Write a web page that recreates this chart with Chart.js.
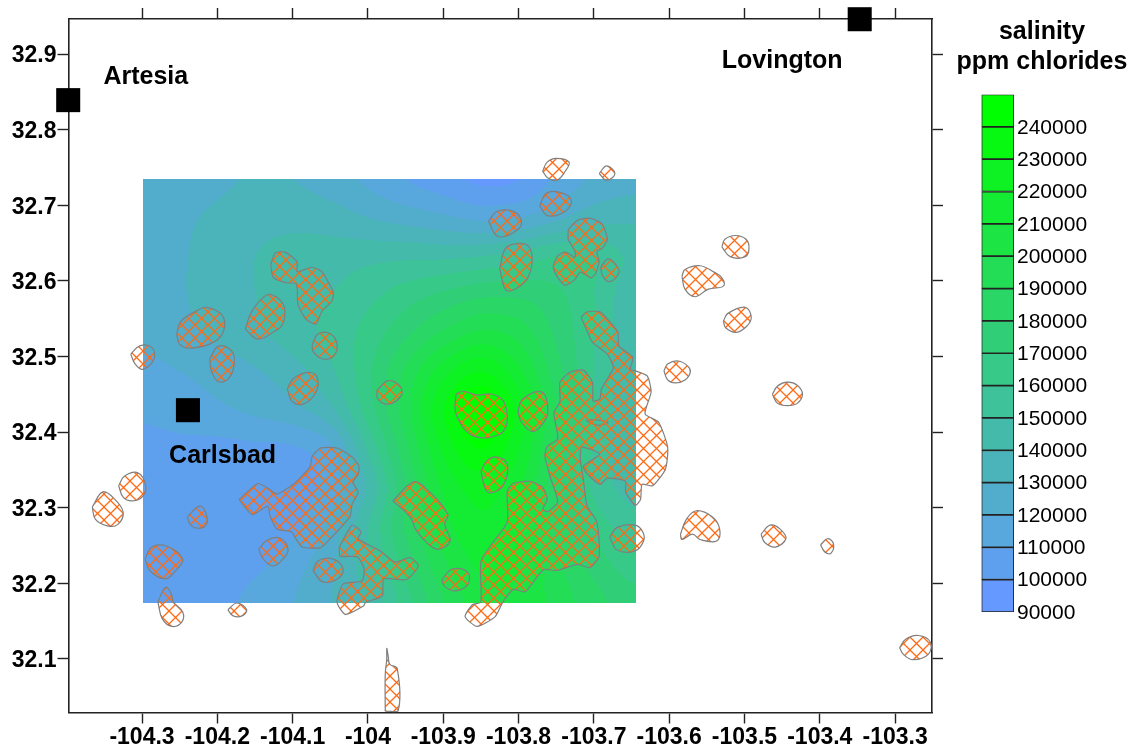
<!DOCTYPE html>
<html>
<head>
<meta charset="utf-8">
<title>Salinity map</title>
<script src="https://cdn.jsdelivr.net/npm/chart.js@4"></script>
<style>
    body { margin: 0; background: #fff; }
    #mapChart { position: absolute; left: 0; top: 0; }
    #scaleChart { position: absolute; left: 953px; top: 0; }
</style>
</head>
<body>
<canvas id="mapChart" width="1131" height="746"></canvas>
<canvas id="scaleChart" width="178" height="746"></canvas>
<script>
// Towns
const townNames = ["Artesia", "Lovington", "Carlsbad"];
const townLons = [-104.398, -103.347, -104.239];
const townLats = [32.839, 32.946, 32.429];
const townLabelLons = [-104.295, -103.450, -104.193];
const townLabelLats = [32.869, 32.890, 32.368];

// Salinity, thousands of ppm, north row first
const fieldLons = [-104.30, -104.25, -104.20, -104.15, -104.10, -104.05, -104.00, -103.95, -103.90, -103.85, -103.80, -103.75, -103.70, -103.65];
const fieldLats = [32.735, 32.684, 32.633, 32.582, 32.531, 32.480, 32.429, 32.378, 32.327, 32.276, 32.225, 32.175];
const fieldValues = [
    [123, 124, 128, 131, 130, 125, 118, 110, 104, 98, 100, 112, 122, 126],
    [124, 128, 132, 136, 137, 135, 130, 126, 122, 118, 120, 128, 136, 138],
    [125, 129, 134, 140, 144, 145, 147, 148, 148, 150, 154, 160, 158, 148],
    [125, 129, 135, 140, 146, 150, 157, 165, 172, 178, 178, 172, 160, 143],
    [122, 127, 132, 138, 145, 153, 164, 178, 192, 202, 196, 178, 160, 142],
    [117, 120, 124, 129, 136, 148, 168, 192, 216, 230, 212, 184, 160, 142],
    [112, 115, 118, 122, 127, 138, 165, 196, 230, 252, 226, 190, 160, 142],
    [106, 107, 107, 108, 109, 118, 152, 188, 222, 240, 220, 186, 158, 142],
    [103, 103, 104, 105, 106, 115, 142, 180, 212, 224, 212, 182, 158, 146],
    [103, 103, 104, 105, 108, 124, 150, 182, 206, 218, 210, 186, 166, 155],
    [103, 103, 104, 108, 116, 128, 148, 174, 198, 212, 210, 192, 176, 165],
    [103, 104, 106, 114, 120, 130, 142, 166, 190, 206, 208, 196, 184, 174]
];

// Contour levels of the colour scale
const levels = [90000, 100000, 110000, 120000, 130000, 140000, 150000, 160000, 170000, 180000, 190000, 200000, 210000, 220000, 230000, 240000, 250000];

// Hatched areas as lon, lat pairs
const hatchedAreas = [
    [-103.768,32.745, -103.762,32.757, -103.750,32.762, -103.733,32.757, -103.738,32.745, -103.749,32.733, -103.761,32.736],
    [-103.693,32.742, -103.683,32.752, -103.672,32.742, -103.683,32.733],
    [-103.772,32.699, -103.763,32.716, -103.745,32.717, -103.730,32.707, -103.738,32.692, -103.761,32.686],
    [-103.840,32.679, -103.828,32.692, -103.805,32.691, -103.796,32.676, -103.808,32.663, -103.828,32.659],
    [-103.825,32.616, -103.818,32.642, -103.805,32.649, -103.787,32.646, -103.782,32.626, -103.789,32.602, -103.805,32.589, -103.817,32.588],
    [-103.734,32.668, -103.722,32.680, -103.705,32.683, -103.689,32.675, -103.682,32.655, -103.689,32.643, -103.696,32.639, -103.693,32.625, -103.698,32.609, -103.704,32.604, -103.718,32.612, -103.725,32.602, -103.738,32.594, -103.749,32.606, -103.754,32.619, -103.748,32.633, -103.738,32.638, -103.725,32.631, -103.725,32.639, -103.734,32.655],
    [-103.691,32.618, -103.681,32.629, -103.669,32.619, -103.667,32.610, -103.679,32.599, -103.688,32.606],
    [-103.583,32.606, -103.579,32.615, -103.559,32.620, -103.541,32.612, -103.530,32.604, -103.528,32.593, -103.548,32.589, -103.566,32.579, -103.579,32.589],
    [-103.530,32.645, -103.526,32.655, -103.512,32.660, -103.498,32.655, -103.494,32.643, -103.499,32.632, -103.519,32.632],
    [-103.528,32.547, -103.522,32.557, -103.499,32.565, -103.491,32.552, -103.497,32.540, -103.511,32.532, -103.525,32.538],
    [-103.607,32.481, -103.602,32.490, -103.588,32.494, -103.575,32.487, -103.572,32.479, -103.579,32.469, -103.592,32.465, -103.602,32.469],
    [-103.463,32.450, -103.456,32.461, -103.443,32.466, -103.430,32.462, -103.423,32.450, -103.430,32.438, -103.443,32.435, -103.456,32.438],
    [-103.717,32.552, -103.709,32.559, -103.692,32.559, -103.678,32.545, -103.668,32.532, -103.667,32.514, -103.649,32.500, -103.649,32.493, -103.652,32.483, -103.645,32.481, -103.629,32.474, -103.624,32.453, -103.632,32.424, -103.614,32.413, -103.602,32.380, -103.605,32.351, -103.622,32.329, -103.636,32.331, -103.638,32.311, -103.645,32.303, -103.658,32.321, -103.658,32.335, -103.682,32.339, -103.692,32.331, -103.709,32.345, -103.714,32.355, -103.692,32.371, -103.716,32.380, -103.718,32.364, -103.714,32.338, -103.709,32.302, -103.696,32.281, -103.693,32.236, -103.705,32.221, -103.722,32.225, -103.749,32.217, -103.767,32.218, -103.791,32.189, -103.807,32.192, -103.821,32.175, -103.831,32.156, -103.855,32.143, -103.871,32.156, -103.861,32.172, -103.850,32.175, -103.850,32.229, -103.834,32.254, -103.815,32.281, -103.815,32.322, -103.807,32.332, -103.785,32.335, -103.768,32.327, -103.762,32.311, -103.768,32.298, -103.761,32.295, -103.748,32.308, -103.758,32.341, -103.765,32.368, -103.762,32.381, -103.748,32.391, -103.753,32.426, -103.745,32.440, -103.745,32.466, -103.732,32.479, -103.714,32.482, -103.702,32.466, -103.701,32.441, -103.692,32.444, -103.690,32.457, -103.678,32.477, -103.674,32.486, -103.682,32.503, -103.702,32.519, -103.710,32.536],
    [-103.679,32.261, -103.669,32.274, -103.645,32.277, -103.635,32.268, -103.634,32.256, -103.645,32.243, -103.669,32.244],
    [-103.883,32.450, -103.874,32.454, -103.855,32.449, -103.834,32.450, -103.818,32.437, -103.818,32.404, -103.838,32.393, -103.860,32.395, -103.874,32.407, -103.884,32.428],
    [-103.801,32.428, -103.794,32.444, -103.769,32.453, -103.761,32.428, -103.768,32.411, -103.782,32.401, -103.796,32.413],
    [-103.850,32.348, -103.842,32.362, -103.829,32.367, -103.815,32.358, -103.818,32.334, -103.829,32.322, -103.842,32.322],
    [-103.988,32.455, -103.973,32.468, -103.957,32.460, -103.956,32.448, -103.973,32.437, -103.987,32.444],
    [-103.967,32.309, -103.940,32.334, -103.927,32.329, -103.894,32.292, -103.898,32.278, -103.891,32.256, -103.907,32.245, -103.922,32.254, -103.937,32.272, -103.944,32.288],
    [-103.902,32.205, -103.888,32.219, -103.868,32.215, -103.867,32.199, -103.884,32.190, -103.898,32.196],
    [-104.038,32.248, -104.021,32.277, -104.009,32.268, -104.013,32.259, -103.984,32.243, -103.964,32.228, -103.944,32.234, -103.933,32.223, -103.949,32.205, -103.979,32.206, -103.981,32.183, -104.003,32.175, -104.006,32.170, -104.030,32.159, -104.041,32.175, -104.033,32.199, -104.008,32.203, -104.005,32.219, -104.014,32.235, -104.037,32.236],
    [-104.073,32.217, -104.066,32.230, -104.046,32.232, -104.033,32.219, -104.040,32.206, -104.060,32.202],
    [-104.171,32.311, -104.146,32.332, -104.130,32.324, -104.121,32.318, -104.099,32.331, -104.077,32.354, -104.074,32.368, -104.063,32.379, -104.041,32.379, -104.021,32.367, -104.012,32.355, -104.013,32.344, -104.020,32.334, -104.013,32.320, -104.021,32.305, -104.024,32.288, -104.054,32.255, -104.063,32.247, -104.087,32.248, -104.097,32.261, -104.101,32.268, -104.121,32.272, -104.130,32.289, -104.133,32.302, -104.154,32.291],
    [-104.145,32.245, -104.134,32.257, -104.117,32.260, -104.106,32.245, -104.113,32.232, -104.126,32.223, -104.139,32.232],
    [-104.240,32.288, -104.223,32.302, -104.214,32.289, -104.216,32.276, -104.227,32.273, -104.236,32.278],
    [-104.296,32.232, -104.287,32.248, -104.267,32.249, -104.246,32.232, -104.256,32.216, -104.269,32.206, -104.289,32.216],
    [-104.279,32.176, -104.268,32.195, -104.260,32.183, -104.259,32.176, -104.246,32.162, -104.247,32.149, -104.260,32.143, -104.273,32.153],
    [-104.186,32.165, -104.174,32.174, -104.161,32.165, -104.167,32.157, -104.179,32.157],
    [-104.331,32.329, -104.323,32.342, -104.305,32.346, -104.295,32.329, -104.299,32.315, -104.313,32.309, -104.325,32.314],
    [-104.366,32.301, -104.352,32.321, -104.336,32.311, -104.325,32.294, -104.332,32.278, -104.346,32.276, -104.362,32.285],
    [-104.315,32.503, -104.303,32.514, -104.287,32.512, -104.284,32.497, -104.299,32.483, -104.309,32.490],
    [-104.210,32.497, -104.198,32.514, -104.180,32.506, -104.178,32.487, -104.186,32.470, -104.199,32.467, -104.208,32.481],
    [-104.107,32.457, -104.100,32.470, -104.080,32.479, -104.068,32.474, -104.069,32.453, -104.086,32.437, -104.101,32.441],
    [-104.254,32.530, -104.248,32.547, -104.226,32.561, -104.214,32.565, -104.194,32.555, -104.191,32.536, -104.203,32.520, -104.234,32.511, -104.250,32.516],
    [-104.163,32.536, -104.154,32.560, -104.135,32.581, -104.122,32.579, -104.111,32.565, -104.113,32.543, -104.123,32.534, -104.146,32.523],
    [-104.129,32.622, -104.123,32.637, -104.110,32.638, -104.094,32.625, -104.094,32.612, -104.074,32.618, -104.061,32.612, -104.046,32.585, -104.048,32.573, -104.061,32.560, -104.069,32.543, -104.082,32.549, -104.093,32.569, -104.095,32.596, -104.111,32.598, -104.126,32.605],
    [-104.074,32.516, -104.066,32.530, -104.050,32.530, -104.041,32.516, -104.046,32.500, -104.061,32.497, -104.073,32.507],
    [-103.977,32.031, -103.977,32.080, -103.975,32.100, -103.975,32.114, -103.973,32.103, -103.971,32.093, -103.961,32.087, -103.960,32.031],
    [-103.478,32.265, -103.466,32.277, -103.453,32.272, -103.445,32.259, -103.459,32.248, -103.473,32.254],
    [-103.399,32.251, -103.390,32.259, -103.382,32.253, -103.385,32.240, -103.393,32.241],
    [-103.585,32.265, -103.577,32.285, -103.564,32.296, -103.543,32.288, -103.533,32.272, -103.537,32.256, -103.559,32.258, -103.569,32.265, -103.583,32.258],
    [-103.294,32.115, -103.286,32.126, -103.269,32.131, -103.253,32.122, -103.256,32.106, -103.276,32.099, -103.289,32.106]
];
const unhatchedLens = [-103.710,32.416, -103.696,32.416, -103.681,32.413, -103.692,32.409, -103.705,32.412];

function toPoints(pairs) {
    const points = [];
    for (let i = 0; i < pairs.length; i += 2) {
        points.push({ x: pairs[i], y: pairs[i + 1] });
    }
    points.push({ x: pairs[0], y: pairs[1] });
    return points;
}

// 90000 is #6699ff and the top band is #00ff00
function levelRgb(index) {
    const t = Math.max(0, Math.min(15, index)) / 15;
    return [Math.round(102 * (1 - t)), Math.round(153 + 102 * t), Math.round(255 * (1 - t))];
}

function catmull(a, b, c, d, t) {
    return b + 0.5 * t * (c - a + t * (2 * a - 5 * b + 4 * c - d + t * (3 * (b - c) + d - a)));
}

function sampleField(lon, lat) {
    const cols = fieldLons.length, rows = fieldLats.length;
    const u = (lon - fieldLons[0]) / (fieldLons[cols - 1] - fieldLons[0]) * (cols - 1);
    const v = (lat - fieldLats[0]) / (fieldLats[rows - 1] - fieldLats[0]) * (rows - 1);
    const c = Math.max(0, Math.min(cols - 2, Math.floor(u)));
    const r = Math.max(0, Math.min(rows - 2, Math.floor(v)));
    const rowAt = (row) => {
        const line = fieldValues[Math.max(0, Math.min(rows - 1, row))];
        return catmull(line[Math.max(0, c - 1)], line[c], line[c + 1], line[Math.min(cols - 1, c + 2)], Math.min(1, u - c));
    };
    return catmull(rowAt(r - 1), rowAt(r), rowAt(r + 1), rowAt(r + 2), Math.min(1, v - r));
}

// Contour bands of the salinity grid, placed through the axes
const fieldPlugin = {
    id: "field",
    beforeDatasetsDraw(chart) {
        const xs = chart.scales.x, ys = chart.scales.y;
        const x0 = Math.ceil(xs.getPixelForValue(fieldLons[0]));
        const x1 = Math.ceil(xs.getPixelForValue(-103.645));
        const y0 = Math.ceil(ys.getPixelForValue(fieldLats[0]));
        const y1 = Math.ceil(ys.getPixelForValue(fieldLats[fieldLats.length - 1]));
        const w = x1 - x0, h = y1 - y0;
        const off = document.createElement("canvas");
        off.width = w;
        off.height = h;
        const octx = off.getContext("2d");
        const img = octx.createImageData(w, h);
        for (let py = 0; py < h; py++) {
            const lat = ys.getValueForPixel(y0 + py);
            for (let px = 0; px < w; px++) {
                const val = sampleField(xs.getValueForPixel(x0 + px), lat);
                const rgb = levelRgb(Math.floor((val * 1000 - levels[0]) / 10000));
                const k = (py * w + px) * 4;
                img.data[k] = rgb[0];
                img.data[k + 1] = rgb[1];
                img.data[k + 2] = rgb[2];
                img.data[k + 3] = 255;
            }
        }
        octx.putImageData(img, 0, 0);
        chart.ctx.drawImage(off, x0, y0);
    }
};

// Town names next to the black squares
const townLabelPlugin = {
    id: "townLabels",
    afterDatasetsDraw(chart) {
        const ctx = chart.ctx;
        ctx.save();
        ctx.font = "bold 25px 'Liberation Sans'";
        ctx.fillStyle = "#000";
        ctx.textAlign = "center";
        ctx.textBaseline = "middle";
        townNames.forEach((name, i) => {
            ctx.fillText(name, chart.scales.x.getPixelForValue(townLabelLons[i]), chart.scales.y.getPixelForValue(townLabelLats[i]));
        });
        ctx.restore();
    }
};

function hatchPattern() {
    const size = 13;
    const tile = document.createElement("canvas");
    tile.width = size;
    tile.height = size;
    const c = tile.getContext("2d");
    c.strokeStyle = "#ff6a14";
    c.lineWidth = 1.3;
    c.beginPath();
    c.moveTo(-1, -1);
    c.lineTo(size + 1, size + 1);
    c.moveTo(-1, size + 1);
    c.lineTo(size + 1, -1);
    c.stroke();
    return document.createElement("canvas").getContext("2d").createPattern(tile, "repeat");
}

const hatch = hatchPattern();

const areaDatasets = hatchedAreas.map(area => ({
    data: toPoints(area),
    showLine: true,
    fill: "shape",
    backgroundColor: hatch,
    borderColor: "#7f7f7f",
    borderWidth: 1.2,
    tension: area.length > 24 ? 0.2 : 0.4,
    pointRadius: 0
}));

function axisOptions(position, size, min, max, showLabels) {
    const horizontal = position === "top" || position === "bottom";
    return {
        type: "linear",
        axis: horizontal ? "x" : "y",
        position: position,
        min: min,
        max: max,
        afterFit(scale) {
            if (horizontal) {
                scale.height = size;
            } else {
                scale.width = size;
            }
        },
        border: { display: true, color: "#222", width: 1.6 },
        grid: { drawOnChartArea: false, drawTicks: true, tickLength: 11, tickColor: "#222", tickWidth: 1.4 },
        ticks: {
            display: showLabels,
            stepSize: 0.1,
            includeBounds: false,
            autoSkip: false,
            maxRotation: 0,
            padding: horizontal ? 0 : 1,
            labelOffset: horizontal ? 0 : 2,
            color: "#000",
            font: { family: "Liberation Sans", weight: "bold", size: 23 },
            callback: (value) => String(Math.round(value * 10) / 10)
        }
    };
}

const lonMin = -104.3976, lonMax = -103.251, latMin = 32.0292, latMax = 32.9463;

new Chart(document.getElementById("mapChart"), {
    type: "scatter",
    data: {
        datasets: areaDatasets.concat([
            {
                data: toPoints(unhatchedLens),
                showLine: true,
                fill: false,
                borderColor: "#7f7f7f",
                borderWidth: 1.2,
                tension: 0.25,
                pointRadius: 0
            },
            {
                data: townLons.map((lon, i) => ({ x: lon, y: townLats[i] })),
                pointStyle: "rect",
                pointRadius: 17,
                backgroundColor: "#000",
                borderWidth: 0,
                clip: false
            }
        ])
    },
    options: {
        responsive: false,
        animation: false,
        events: [],
        layout: { padding: 0 },
        plugins: { legend: { display: false }, tooltip: { enabled: false }, title: { display: false } },
        scales: {
            x: axisOptions("bottom", 33.5, lonMin, lonMax, true),
            y: axisOptions("left", 68.5, latMin, latMax, true),
            x2: axisOptions("top", 19, lonMin, lonMax, false),
            y2: axisOptions("right", 199, latMin, latMax, false)
        }
    },
    plugins: [fieldPlugin, townLabelPlugin]
});

// Colour scale
new Chart(document.getElementById("scaleChart"), {
    type: "bar",
    data: {
        labels: ["salinity"],
        datasets: levels.slice(0, -1).map((lo, i) => ({
            data: [[lo, levels[i + 1]]],
            yAxisID: "y",
            grouped: false,
            barPercentage: 1,
            categoryPercentage: 1,
            backgroundColor: "rgb(" + levelRgb(i).join(",") + ")",
            borderColor: "#222",
            borderWidth: 1.2,
            borderSkipped: false
        }))
    },
    options: {
        responsive: false,
        animation: false,
        events: [],
        layout: { padding: { bottom: 134 } },
        plugins: {
            legend: { display: false },
            tooltip: { enabled: false },
            title: {
                display: true,
                text: ["salinity", "ppm chlorides"],
                color: "#000",
                font: { family: "Liberation Sans", weight: "bold", size: 25, lineHeight: 1.2 },
                padding: { top: 17, bottom: 17.5 }
            }
        },
        scales: {
            x: { display: false },
            // empty axis that keeps the bar clear of the title column
            spacer: {
                axis: "y",
                position: "left",
                min: 0,
                max: 1,
                afterFit(scale) { scale.width = 28.5; },
                border: { display: false },
                grid: { display: false, drawTicks: false },
                ticks: { display: false }
            },
            y: {
                position: "right",
                min: levels[0],
                max: levels[levels.length - 1],
                afterFit(scale) { scale.width = 117; },
                border: { display: false },
                grid: { display: false, drawTicks: false },
                afterBuildTicks(scale) { scale.ticks = scale.ticks.filter(t => t.value < levels[levels.length - 1]); },
                ticks: {
                    stepSize: 10000,
                    padding: 3,
                    labelOffset: 1,
                    autoSkip: false,
                    color: "#000",
                    font: { family: "Liberation Sans", size: 21 },
                    callback: (value) => String(value)
                }
            }
        }
    }
});
</script>
</body>
</html>
